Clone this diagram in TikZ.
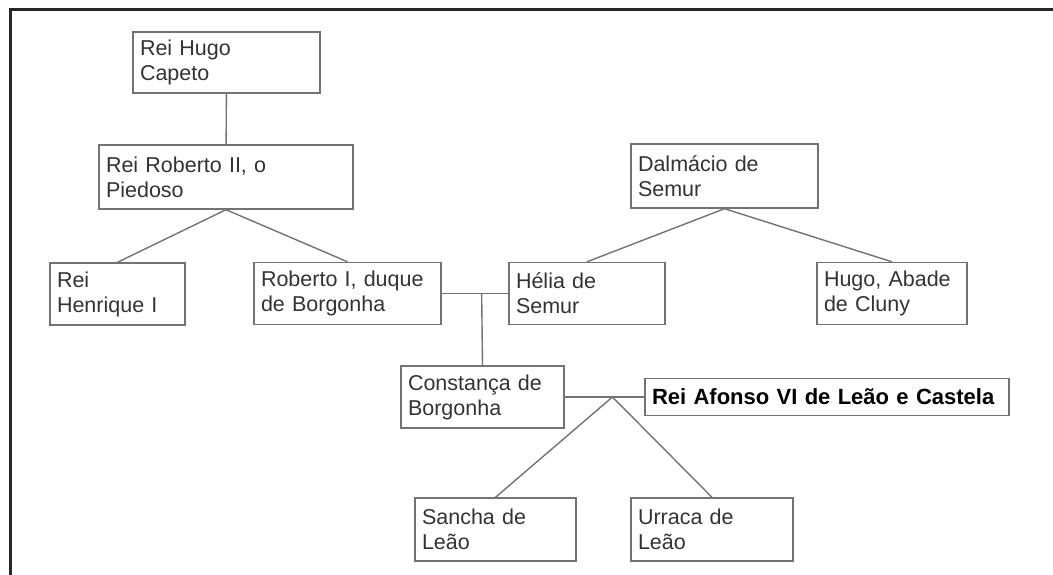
\documentclass[tikz,border=0pt]{standalone}
\usepackage{fontspec}
\setmainfont{Liberation Sans}
\usepackage{tikz}
\usetikzlibrary{calc}

\begin{document}
\begin{tikzpicture}[x=1pt, y=-1pt,
    person/.style ={rectangle, draw=black!55, line width=1.4pt, align=left,
      inner xsep=7pt, inner ysep=0pt, minimum height=62pt, text=black!80,
      font=\fontsize{21.5}{25}\selectfont},
    tie/.style ={draw=black!55, line width=1.4pt}]
   \useasboundingbox (0,0) rectangle (1053,575);
   \draw[black!85, line width=3pt] (10,575) -- (10,10) -- (1053,10);
   \node[person, text width=173pt, minimum height=61pt] (hugo) at (226.5,62.5) {Rei Hugo\\Capeto};
   \node[person, text width=240pt, minimum height=64pt] (roberto2) at (226,177) {Rei Roberto II, o\\Piedoso};
   \node[person, text width=121pt] (henrique) at (117.5,294) {Rei\\Henrique I};
   \node[person, text width=173pt] (roberto1) at (347.5,293.5) {Roberto I, duque\\de Borgonha};
   \node[person, text width=173pt, minimum height=64pt] (dalmacio) at (724.5,176) {Dalmácio de\\Semur};
   \node[person, text width=142pt] (helia) at (587,293.5) {Hélia de\\Semur};
   \node[person, text width=136pt] (abade) at (892,293.5) {Hugo, Abade\\de Cluny};
   \node[person, text width=149pt] (constanca) at (482.5,397) {Constança de\\Borgonha};
   \node[person, text width=350pt, minimum height=37pt, text=black,
     font=\fontsize{22}{25}\selectfont\bfseries] (afonso) at (827,397) {Rei Afonso VI de Leão e Castela};
   \node[person, text width=147pt, minimum height=63pt] (sancha) at (495.5,529.5) {Sancha de\\Leão};
   \node[person, text width=148pt, minimum height=63pt] (urraca) at (712,529.5) {Urraca de\\Leão};
   \coordinate (casal1) at ($(roberto1.east)!0.6!(helia.west)$);
   \coordinate (casal2) at ($(constanca.east)!0.6!(afonso.west)$);
   \draw[tie] (hugo) to (roberto2);
   \draw[tie] (roberto2.south) to (henrique.north);
   \draw[tie] (roberto2.south) to (roberto1.north);
   \draw[tie] (dalmacio.south) to (helia.north);
   \draw[tie] (dalmacio.south) to (abade.north);
   \draw[tie] (roberto1.east) to (helia.west);
   \draw[tie] (casal1) to (constanca.north);
   \draw[tie] (constanca.east) to (afonso.west);
   \draw[tie] (casal2) to (sancha.north);
   \draw[tie] (casal2) to (urraca.north);
 \end{tikzpicture}
\end{document}
